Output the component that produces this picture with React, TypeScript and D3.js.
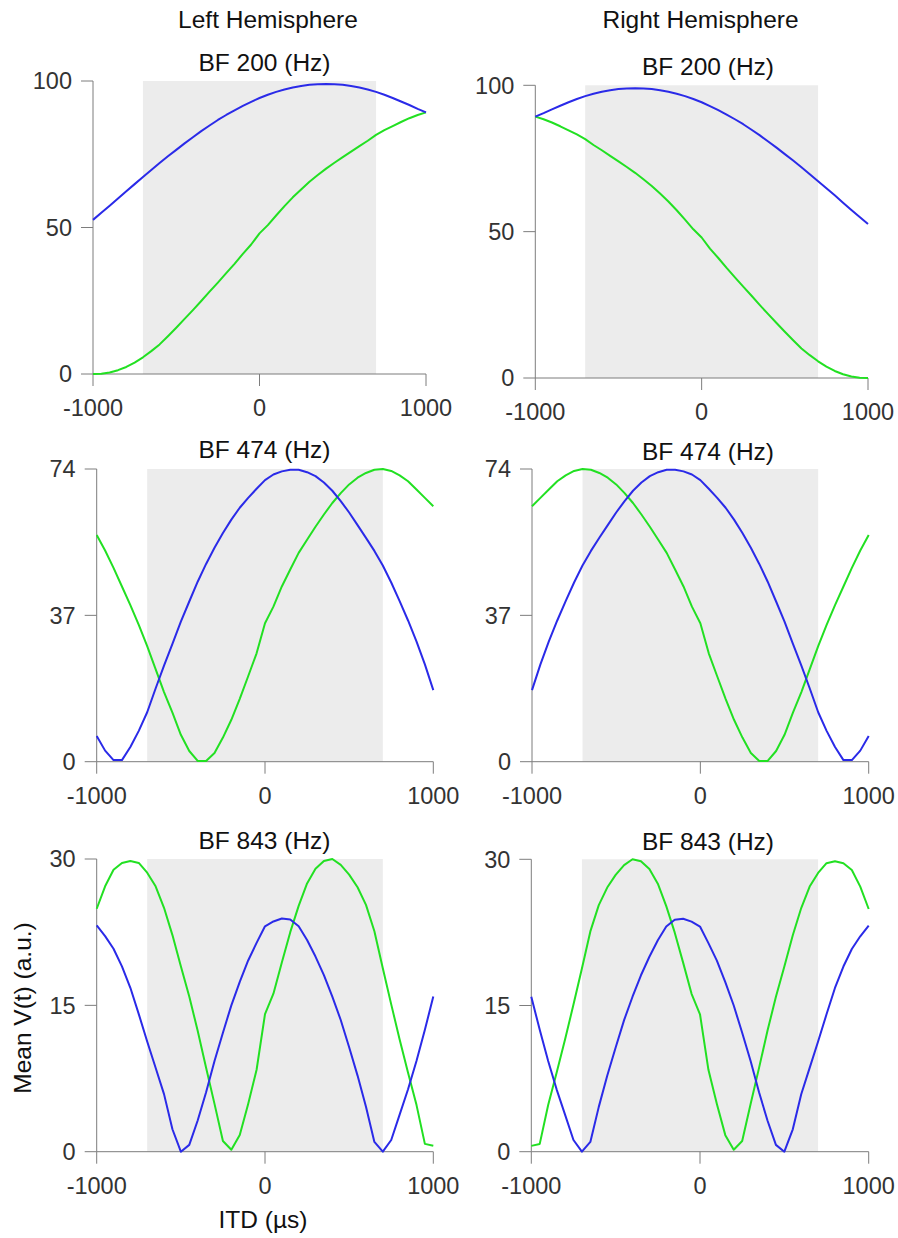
import React from "react";
import * as d3 from "d3";

// ITD sample grid (µs)
const itd = [
  -1000, -950, -900, -850, -800, -750, -700, -650, -600, -550, -500, -450, -400, -350, -300, -250, -200, -150, -100, -50,
  0, 50, 100, 150, 200, 250, 300, 350, 400, 450, 500, 550, 600, 650, 700, 750, 800, 850, 900, 950, 1000,
];

// left hemisphere
const lh200Blue = [
  52.6, 55.0, 57.4, 59.9, 62.4, 64.8, 67.2, 69.6, 72.0, 74.3, 76.5, 78.7, 80.8, 82.9, 84.8, 86.7, 88.4, 90.0, 91.5, 92.9,
  94.2, 95.3, 96.3, 97.1, 97.8, 98.3, 98.7, 98.9, 99.0, 98.9, 98.7, 98.3, 97.8, 97.1, 96.3, 95.3, 94.2, 93.0, 91.8, 90.5, 89.3,
];
const lh200Green = [
  0, 0.1, 0.5, 1.3, 2.4, 3.9, 5.7, 7.8, 10.1, 12.9, 15.8, 18.8, 21.8, 24.9, 28.1, 31.2, 34.4, 37.6, 41.0, 44.2,
  48.0, 50.8, 54.1, 57.3, 60.3, 63.0, 65.6, 67.9, 70.1, 72.1, 74.0, 75.9, 77.8, 79.6, 81.6, 83.2, 84.6, 86.0, 87.3, 88.4, 89.3,
];
const lh474Blue = [
  6.5, 2.8, 0.4, 0.4, 3.7, 7.8, 12.5, 18.5, 24.3, 29.8, 35.4, 40.5, 45.5, 50.0, 54.1, 57.8, 61.2, 64.2, 66.7, 69.0,
  71.2, 72.6, 73.4, 73.8, 73.8, 73.2, 72.2, 70.6, 68.5, 65.9, 63.0, 59.8, 56.6, 53.3, 49.6, 45.3, 40.6, 35.7, 30.4, 24.6, 18.1,
];
const lh474Green = [
  57.3, 53.4, 49.0, 44.3, 39.6, 34.6, 29.2, 23.4, 17.6, 12.4, 6.8, 2.7, 0.2, 0.2, 2.2, 6.1, 10.6, 15.9, 21.6, 27.4,
  35.0, 39.2, 44.3, 48.6, 52.8, 56.1, 59.4, 62.5, 65.4, 67.9, 70.1, 71.8, 73.0, 73.8, 74.0, 73.5, 72.4, 70.9, 68.8, 66.7, 64.6,
];
const lh843Blue = [
  23.2, 22.1, 20.8, 19.0, 16.8, 14.1, 11.3, 8.6, 5.9, 2.3, 0.0, 0.7, 3.2, 6.1, 9.3, 12.2, 15.0, 17.4, 19.6, 21.4,
  23.1, 23.6, 23.9, 23.8, 23.1, 21.7, 20.0, 18.1, 15.9, 13.5, 10.7, 7.8, 4.6, 1.0, 0.0, 1.2, 3.8, 6.4, 9.3, 12.5, 15.9,
];
const lh843Green = [
  24.9, 27.2, 28.9, 29.6, 29.8, 29.6, 28.6, 27.2, 25.0, 22.2, 19.0, 15.9, 12.4, 8.6, 4.9, 1.1, 0.2, 1.7, 4.9, 8.4,
  14.1, 16.2, 19.4, 22.5, 25.2, 27.5, 29.0, 29.8, 30.0, 29.4, 28.4, 27.1, 25.3, 22.6, 18.8, 15.1, 11.5, 8.1, 4.8, 0.8, 0.6,
];

// right hemisphere
const rh200Blue = [
  89.3, 90.5, 91.8, 93.0, 94.2, 95.3, 96.3, 97.1, 97.8, 98.3, 98.7, 98.9, 99.0, 98.9, 98.7, 98.3, 97.8, 97.1, 96.3, 95.3,
  94.2, 92.9, 91.5, 90.0, 88.4, 86.7, 84.8, 82.9, 80.8, 78.7, 76.5, 74.3, 72.0, 69.6, 67.2, 64.8, 62.4, 59.9, 57.4, 55.0, 52.6,
];
const rh200Green = [
  89.3, 88.4, 87.3, 86.0, 84.6, 83.2, 81.6, 79.6, 77.8, 75.9, 74.0, 72.1, 70.1, 67.9, 65.6, 63.0, 60.3, 57.3, 54.1, 50.8,
  48.0, 44.2, 41.0, 37.6, 34.4, 31.2, 28.1, 24.9, 21.8, 18.8, 15.8, 12.9, 10.1, 7.8, 5.7, 3.9, 2.4, 1.3, 0.5, 0.1, 0,
];
const rh474Blue = [
  18.1, 24.6, 30.4, 35.7, 40.6, 45.3, 49.6, 53.3, 56.6, 59.8, 63.0, 65.9, 68.5, 70.6, 72.2, 73.2, 73.8, 73.8, 73.4, 72.6,
  71.2, 69.0, 66.7, 64.2, 61.2, 57.8, 54.1, 50.0, 45.5, 40.5, 35.4, 29.8, 24.3, 18.5, 12.5, 7.8, 3.7, 0.4, 0.4, 2.8, 6.5,
];
const rh474Green = [
  64.6, 66.7, 68.8, 70.9, 72.4, 73.5, 74.0, 73.8, 73.0, 71.8, 70.1, 67.9, 65.4, 62.5, 59.4, 56.1, 52.8, 48.6, 44.3, 39.2,
  35.0, 27.4, 21.6, 15.9, 10.6, 6.1, 2.2, 0.2, 0.2, 2.7, 6.8, 12.4, 17.6, 23.4, 29.2, 34.6, 39.6, 44.3, 49.0, 53.4, 57.3,
];
const rh843Blue = [
  15.9, 12.5, 9.3, 6.4, 3.8, 1.2, 0.0, 1.0, 4.6, 7.8, 10.7, 13.5, 15.9, 18.1, 20.0, 21.7, 23.1, 23.8, 23.9, 23.6,
  23.1, 21.4, 19.6, 17.4, 15.0, 12.2, 9.3, 6.1, 3.2, 0.7, 0.0, 2.3, 5.9, 8.6, 11.3, 14.1, 16.8, 19.0, 20.8, 22.1, 23.2,
];
const rh843Green = [
  0.6, 0.8, 4.8, 8.1, 11.5, 15.1, 18.8, 22.6, 25.3, 27.1, 28.4, 29.4, 30.0, 29.8, 29.0, 27.5, 25.2, 22.5, 19.4, 16.2,
  14.1, 8.4, 4.9, 1.7, 0.2, 1.1, 4.9, 8.6, 12.4, 15.9, 19.0, 22.2, 25.0, 27.2, 28.6, 29.6, 29.8, 29.6, 28.9, 27.2, 24.9,
];

const xTicks = [-1000, 0, 1000];
const ticks200 = [0, 50, 100];
const ticks474 = [0, 37, 74];
const ticks843 = [0, 15, 30];
const shadeRange = [-700, 700];
const columnTitles = ["Left Hemisphere", "Right Hemisphere"];

const FONT = "'Liberation Sans', Arial, Helvetica, sans-serif";
const BLUE = "#2a2ae8";
const GREEN = "#22e022";
const AXIS = "#7d7d7d";

// layout: [x0, x1, yTop, yBottom], title anchor
const panels = [
  { title: "BF 200 (Hz)", ticks: ticks200, blue: lh200Blue, green: lh200Green, box: [93, 426, 81, 374], tpos: [264.5, 71] },
  { title: "BF 200 (Hz)", ticks: ticks200, blue: rh200Blue, green: rh200Green, box: [535.3, 868, 85.3, 378], tpos: [708, 74.5] },
  { title: "BF 474 (Hz)", ticks: ticks474, blue: lh474Blue, green: lh474Green, box: [96.7, 433.3, 469, 761.7], tpos: [264.5, 457.5] },
  { title: "BF 474 (Hz)", ticks: ticks474, blue: rh474Blue, green: rh474Green, box: [532, 868.7, 469, 761.7], tpos: [708, 460] },
  { title: "BF 843 (Hz)", ticks: ticks843, blue: lh843Blue, green: lh843Green, box: [96.7, 433.3, 859, 1151.7], tpos: [264.5, 849] },
  { title: "BF 843 (Hz)", ticks: ticks843, blue: rh843Blue, green: rh843Green, box: [531.3, 868.7, 859.3, 1151.7], tpos: [708, 850] },
];

function Panel({ p }: { p: any }) {
  const [x0, x1, yT, yB] = p.box;
  const yMax = p.ticks[p.ticks.length - 1];
  const x = d3.scaleLinear().domain([-1000, 1000]).range([x0, x1]);
  const y = d3.scaleLinear().domain([0, yMax]).range([yB, yT]);
  const line = d3
    .line<number>()
    .x((_, i) => x(itd[i]))
    .y((d) => y(d));

  return (
    <g>
      <rect
        x={x(shadeRange[0])}
        y={y(yMax)}
        width={x(shadeRange[1]) - x(shadeRange[0])}
        height={y(0) - y(yMax)}
        fill="#ececec"
      />
      {/* axes */}
      <line x1={x0} x2={x0} y1={y(0)} y2={y(yMax)} stroke={AXIS} strokeWidth={1} />
      <line x1={x0} x2={x1} y1={y(0)} y2={y(0)} stroke={AXIS} strokeWidth={1} />
      {p.ticks.map((t: number) => (
        <g key={"y" + t}>
          <line x1={x0 - 12} x2={x0} y1={y(t)} y2={y(t)} stroke={AXIS} />
          <text x={x0 - 21} y={y(t) + 8.3} textAnchor="end" fontSize={23.5} fill="#333">
            {t}
          </text>
        </g>
      ))}
      {xTicks.map((t) => (
        <g key={"x" + t}>
          <line x1={x(t)} x2={x(t)} y1={y(0)} y2={y(0) + 12} stroke={AXIS} />
          <text x={x(t)} y={y(0) + 42} textAnchor="middle" fontSize={23.5} fill="#333">
            {t}
          </text>
        </g>
      ))}
      <path d={line(p.green) || ""} fill="none" stroke={GREEN} strokeWidth={2} strokeLinejoin="round" />
      <path d={line(p.blue) || ""} fill="none" stroke={BLUE} strokeWidth={2} strokeLinejoin="round" />
      <text x={p.tpos[0]} y={p.tpos[1]} textAnchor="middle" fontSize={24.5} fill="#111">
        {p.title}
      </text>
    </g>
  );
}

export default function App() {
  return (
    <svg
      width={898}
      height={1238}
      style={{ position: "absolute", left: 0, top: 0, background: "#fff" }}
      fontFamily={FONT}
    >
      <text x={268} y={28} textAnchor="middle" fontSize={24.5} fill="#111">
        {columnTitles[0]}
      </text>
      <text x={700.5} y={28} textAnchor="middle" fontSize={24.5} fill="#111">
        {columnTitles[1]}
      </text>
      {panels.map((p, i) => (
        <Panel key={i} p={p} />
      ))}
      <text x={263} y={1228} textAnchor="middle" fontSize={24.5} fill="#111">
        ITD (µs)
      </text>
      <text
        transform="translate(31,1008) rotate(-90)"
        textAnchor="middle"
        fontSize={24.5}
        fill="#111"
      >
        Mean V(t) (a.u.)
      </text>
    </svg>
  );
}
